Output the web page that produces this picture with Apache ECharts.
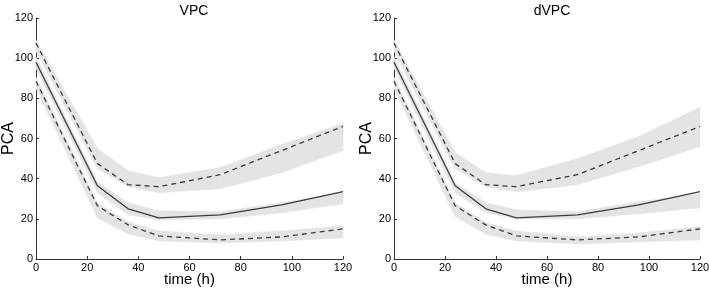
<!DOCTYPE html>
<html>
<head>
<meta charset="utf-8">
<script src="https://cdn.jsdelivr.net/npm/echarts@6/dist/echarts.min.js"></script>
<style>
    html, body { margin: 0; padding: 0; background: #fff; }
    #chart-vpc { width: 709px; height: 288px; }
</style>
</head>
<body>
<div id="chart-vpc"></div>
<script>
// time points (h)
let times = [0, 24, 36, 48, 72, 96, 120];

// observed percentiles (same in both panels)
let obsMedian = [98, 36.5, 25, 20.5, 22, 27, 33.5];
let obsUpper = [107.5, 47.5, 37, 36, 42, 54, 66];
let obsLower = [88.5, 26.5, 17, 11.5, 9.5, 11, 15];

// VPC prediction intervals
let vpcUpLo = [103.5, 45, 36, 33, 35, 43, 54];
let vpcUpHi = [109, 55, 44, 40.5, 45.5, 57, 67.5];
let vpcMedLo = [95, 33, 22, 19.5, 20, 23, 27.5];
let vpcMedHi = [100.5, 38.5, 28, 24, 23.5, 28, 33];
let vpcLowLo = [85, 20.5, 12.5, 9, 8, 9, 10.5];
let vpcLowHi = [90.5, 28, 18.5, 14, 12, 14, 16.5];

// dVPC prediction intervals
let dvpcUpLo = [103.5, 45, 36, 33.5, 37, 46, 56];
let dvpcUpHi = [109, 53, 43, 41.5, 50, 61, 75.5];
let dvpcMedLo = [95, 33, 23, 20, 20, 22.5, 25.5];
let dvpcMedHi = [100.5, 38, 28, 24.5, 23.5, 28.5, 32.5];
let dvpcLowLo = [85, 21, 12.5, 9, 7.5, 8.5, 9.5];
let dvpcLowHi = [90.5, 28, 18, 14, 11, 13, 16];

let titles = ["VPC", "dVPC"];

let lineColor = "#3c3c3c";
let bandColor = "#e4e4e4";
let axisColor = "#333";
let fontFam = '"Liberation Sans", Arial, sans-serif';

let myChart = echarts.init(document.getElementById("chart-vpc"));

function pairs(vals) {
    return times.map((t, i) => [t, vals[i]]);
}

// grey band: one quad per interval between consecutive time points
function bandSeries(idx, lo, hi) {
    let rows = [];
    for (let i = 0; i < times.length - 1; i++) {
        rows.push([times[i], times[i + 1], lo[i], lo[i + 1], hi[i], hi[i + 1]]);
    }
    return {
        type: "custom",
        xAxisIndex: idx,
        yAxisIndex: idx,
        silent: true,
        encode: { x: [0, 1], y: [2, 3, 4, 5] },
        data: rows,
        renderItem: function (params, api) {
            let p1 = api.coord([api.value(0), api.value(2)]),
                p2 = api.coord([api.value(1), api.value(3)]),
                p3 = api.coord([api.value(1), api.value(5)]),
                p4 = api.coord([api.value(0), api.value(4)]);
            return {
                type: "polygon",
                shape: { points: [p1, p2, p3, p4] },
                style: { fill: bandColor, stroke: bandColor, lineWidth: 0.6 },
            };
        },
        z: 1,
    };
}

function lineSeries(idx, vals, dashed) {
    return {
        type: "line",
        xAxisIndex: idx,
        yAxisIndex: idx,
        symbol: "none",
        lineStyle: {
            color: lineColor,
            width: 1.3,
            type: dashed ? [5, 4] : "solid",
        },
        data: pairs(vals),
        z: 3,
    };
}

function axisX(idx) {
    return {
        type: "value",
        gridIndex: idx,
        min: 0,
        max: 120,
        interval: 20,
        name: "time (h)",
        nameLocation: "middle",
        nameGap: 13,
        nameMoveOverlap: false,
        nameTextStyle: { fontFamily: fontFam, fontSize: 15, color: "#000" },
        axisLine: { lineStyle: { color: axisColor, width: 1 } },
        axisTick: { inside: true, length: 3, lineStyle: { color: axisColor } },
        axisLabel: { fontFamily: fontFam, fontSize: 11, color: "#000", margin: 3 },
        splitLine: { show: false },
    };
}

function axisY(idx) {
    return {
        type: "value",
        gridIndex: idx,
        min: 0,
        max: 120,
        interval: 20,
        name: "PCA",
        nameLocation: "middle",
        nameGap: 19,
        nameMoveOverlap: false,
        nameTextStyle: { fontFamily: fontFam, fontSize: 16, color: "#000" },
        axisLine: { show: true, lineStyle: { color: axisColor, width: 1 } },
        axisTick: { show: true, inside: true, length: 3, lineStyle: { color: axisColor } },
        axisLabel: { fontFamily: fontFam, fontSize: 11, color: "#000", margin: 3 },
        splitLine: { show: false },
    };
}

let series = [
    bandSeries(0, vpcUpLo, vpcUpHi),
    bandSeries(0, vpcMedLo, vpcMedHi),
    bandSeries(0, vpcLowLo, vpcLowHi),
    bandSeries(1, dvpcUpLo, dvpcUpHi),
    bandSeries(1, dvpcMedLo, dvpcMedHi),
    bandSeries(1, dvpcLowLo, dvpcLowHi),
];
[0, 1].forEach((idx) => {
    series.push(lineSeries(idx, obsMedian, false));
    series.push(lineSeries(idx, obsUpper, true));
    series.push(lineSeries(idx, obsLower, true));
});

let option = {
    animation: false,
    textStyle: { fontFamily: fontFam },
    title: [
        {
            text: titles[0],
            left: 189,
            top: -1,
            textAlign: "center",
            textStyle: { fontFamily: fontFam, fontSize: 14, fontWeight: "normal", color: "#000" },
        },
        {
            text: titles[1],
            left: 547,
            top: -1,
            textAlign: "center",
            textStyle: { fontFamily: fontFam, fontSize: 14, fontWeight: "normal", color: "#000" },
        },
    ],
    grid: [
        { left: 36, right: 366, top: 18, bottom: 29, containLabel: false, outerBoundsMode: "none" },
        { left: 394, right: 9, top: 18, bottom: 29, containLabel: false, outerBoundsMode: "none" },
    ],
    xAxis: [axisX(0), axisX(1)],
    yAxis: [axisY(0), axisY(1)],
    series: series,
};
option && myChart.setOption(option);
</script>
</body>
</html>
